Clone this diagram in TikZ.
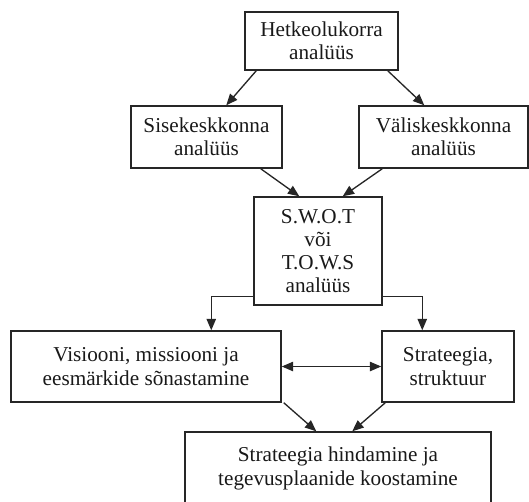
\documentclass[tikz,border=0pt]{standalone}
\usepackage{fontspec}
\setmainfont{Liberation Serif}
\usetikzlibrary{arrows.meta,calc}
\begin{document}
\begin{tikzpicture}[x=0.75pt,y=-0.75pt,
  box/.style={draw=black!85, line width=1.1pt, inner sep=0pt, align=center,
    font=\fontsize{15.9}{17.4}\selectfont, text=black!90},
  tip/.tip={Triangle[length=8.5pt,width=7pt]},
  link/.style={draw=black!85, line width=1pt, -tip},
  both/.style={draw=black!85, line width=1pt, tip-tip},
]
\useasboundingbox (0,0) rectangle (529,501);

% boxes (pixel-based coordinates, y pointing down)
\node[box, minimum width={153*0.75pt}, minimum height={58*0.75pt}] (cur) at (321.5,41) {Hetkeolukorra\\analüüs};
\node[box, minimum width={151*0.75pt}, minimum height={62*0.75pt}] (int) at (206.5,137) {Sisekeskkonna\\analüüs};
\node[box, minimum width={169*0.75pt}, minimum height={62*0.75pt}] (ext) at (443.5,137) {Väliskeskkonna\\analüüs};
\node[box, minimum width={128*0.75pt}, minimum height={108*0.75pt}] (swot) at (318,251) {S.W.O.T\\või\\T.O.W.S\\analüüs};
\node[box, minimum width={270*0.75pt}, minimum height={71*0.75pt}] (vis) at (146,366.5) {Visiooni, missiooni ja\\eesmärkide sõnastamine};
\node[box, minimum width={132*0.75pt}, minimum height={71*0.75pt}] (strat) at (448,366.5) {Strateegia,\\struktuur};
\node[box, minimum width={306*0.75pt}, minimum height={73*0.75pt}] (final) at (338,468.5) {Strateegia hindamine ja\\tegevusplaanide koostamine};

% connectors
\draw[link] ($(cur.south west)+(12,0)$) -- ($(int.north west)+(96,0)$);
\draw[link] ($(cur.south east)+(-11,0)$) -- ($(ext.north west)+(66,0)$);
\draw[link] ($(int.south east)+(-22,0)$) -- ($(swot.north west)+(46,0)$);
\draw[link] ($(ext.south west)+(24,0)$) -- ($(swot.north east)+(-40,0)$);
\draw[link] ($(swot.south west)+(0,-9)$) -| ($(vis.north west)+(201,0)$);
\draw[link] ($(swot.south east)+(0,-9)$) -| ($(strat.north west)+(41,0)$);
\draw[both] (vis.east) -- (strat.west);
\draw[link] ($(vis.south east)+(2,0)$) -- ($(final.north west)+(132,0)$);
\draw[link] ($(strat.south west)+(4,0)$) -- ($(final.north west)+(168,0)$);
\end{tikzpicture}
\end{document}
